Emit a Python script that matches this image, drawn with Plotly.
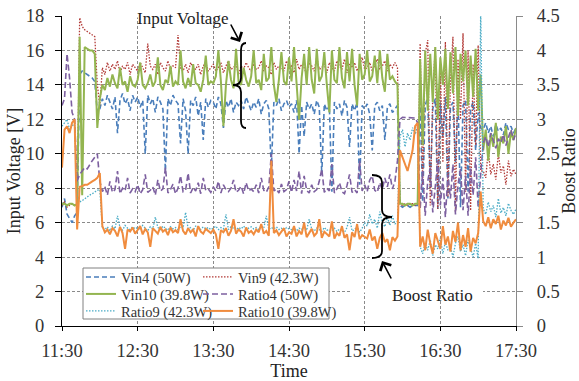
import plotly.graph_objects as go
from datetime import datetime, timedelta

# ---------------- data (2-minute samples from 11:30 to 17:30) ----------------
minutes = list(range(0, 362, 2))

vin4 = [6.9, 7.4, 6.5, 6.2, 6.0, 6.4, 6.6, 14.6, 14.8, 14.7, 14.6, 14.5, 14.4, 14.2, 12.4, 12.6,
        13.2, 12.8, 13.4, 13.0, 12.6, 13.3, 11.2, 13.1, 13.5, 12.9, 13.2, 12.5, 13.4, 13.0,
        13.3, 12.7, 13.1, 10.0, 13.4, 12.9, 13.2, 12.4, 13.3, 13.0, 12.6, 9.0, 13.2, 12.8, 13.4, 13.1,
        12.9, 10.6, 13.2, 12.5, 10.0, 13.1, 12.8, 13.3, 12.2, 13.0, 10.8, 13.2, 12.7, 13.1,
        13.0, 12.6, 13.3, 12.9, 11.5, 13.1, 12.7, 13.2, 12.4, 13.0, 12.8, 13.1, 12.6, 13.3, 12.9, 12.5,
        13.0, 12.7, 13.2, 12.3, 12.9, 13.1, 12.6, 9.1, 13.0, 12.8, 13.2, 12.5, 12.9, 13.1, 12.7,
        12.9, 12.4, 13.1, 10.0, 12.8, 11.0, 13.0, 12.6, 12.9, 12.3, 13.1, 12.7, 8.8, 12.9, 12.5,
        12.8, 7.8, 13.0, 12.6, 12.9, 12.2, 13.1, 12.7, 10.4, 12.9, 12.5, 13.0, 8.2, 12.8, 12.6,
        12.9, 12.3, 10.2, 12.8, 13.0, 12.5, 12.8, 10.8, 12.7, 12.9, 12.4, 12.6, 12.8,
        7.0, 6.9, 7.0, 7.0, 6.9, 7.0, 7.0, 7.0,
        13.0, 7.2, 12.8, 13.3, 8.0, 12.6, 13.2, 6.8, 12.9, 11.0, 13.3, 7.4, 12.7, 13.0, 9.5,
        13.2, 6.9, 12.8, 13.1, 7.8, 12.6, 13.0, 10.2, 12.4, 11.5,
        11.4, 11.8, 11.2, 11.6, 11.0, 11.7, 11.3, 11.5, 11.1, 11.8, 11.4, 11.6, 11.2, 11.5]

vin9 = [7.0, 7.2, 6.9, 7.0, 7.1, 7.0, 7.0, 17.9, 17.4, 17.2, 17.1, 17.0, 16.9, 16.8, 14.0, 12.8,
        15.0, 14.6, 15.3, 14.8, 15.2, 14.9, 15.4, 14.7, 15.1, 14.9, 15.3, 14.6, 15.2, 15.0,
        14.8, 15.3, 15.0, 14.7, 16.4, 15.1, 14.9, 15.2, 14.6, 15.3, 15.0, 14.8, 15.4, 14.9, 15.1, 15.0,
        16.9, 15.0, 14.8, 15.2, 14.7, 15.3, 15.0, 14.9, 15.2, 14.6, 15.1, 15.3, 14.8, 15.0,
        15.2, 14.8, 15.0, 15.3, 14.7, 15.1, 15.4, 14.9, 15.0, 15.2, 14.6, 15.1, 14.9, 15.3, 15.0, 14.8,
        15.2, 14.9, 15.0, 15.4, 14.8, 15.1, 15.0, 14.6, 15.3, 14.9, 15.1, 15.0, 14.8, 15.4, 15.0,
        15.1, 14.7, 15.5, 14.9, 15.2, 15.0, 14.6, 15.3, 15.1, 14.8, 15.6, 14.9, 15.0, 15.2, 14.7,
        15.3, 15.0, 14.8, 15.4, 15.1, 14.9, 15.5, 14.7, 15.2, 15.0, 15.3, 14.8, 15.1, 15.6, 14.9,
        15.0, 15.3, 14.8, 15.2, 15.5, 14.9, 15.1, 15.4, 14.8, 15.2, 15.0, 15.3, 15.0,
        7.1, 7.0, 7.1, 7.0, 7.1, 7.1, 7.0, 7.1,
        16.4, 8.2, 15.8, 16.6, 7.0, 13.5, 16.2, 6.8, 15.0, 9.5, 16.5, 7.5, 14.2, 16.8, 6.6,
        15.5, 12.0, 17.0, 7.8, 16.0, 6.7, 15.2, 10.5, 16.3, 9.0,
        9.0, 8.6, 10.2, 8.8, 9.4, 8.5, 10.0, 8.9, 9.3, 8.2, 9.6, 8.7, 9.1, 8.8]

vin10 = [7.1, 7.1, 7.0, 7.1, 7.1, 7.0, 7.1, 16.8, 7.6, 16.2, 16.1, 16.0, 16.0, 15.8, 11.5, 13.2,
         14.0, 13.7, 14.4, 13.9, 14.6, 14.1, 13.8, 15.0, 14.0, 14.2, 13.6, 14.5, 14.0, 13.9,
         14.3, 15.3, 14.0, 13.8, 14.1, 14.6, 13.9, 14.2, 15.6, 14.0, 13.7, 14.3, 14.1, 15.1, 13.9, 14.2,
         14.0, 16.0, 14.2, 13.8, 14.4, 13.9, 15.2, 14.1, 14.0, 13.6, 14.3, 15.7, 14.0, 14.2,
         14.1, 14.5, 16.0, 14.2, 11.6, 14.0, 15.4, 14.3, 13.8, 16.1, 14.2, 14.0, 15.0, 14.3, 13.9, 14.5,
         16.0, 14.1, 14.3, 13.7, 15.8, 14.2, 14.4, 16.2, 14.0, 13.0, 14.3, 15.9, 14.2, 14.0, 15.6,
         14.2, 16.2, 14.1, 12.0, 14.4, 15.8, 14.0, 16.2, 14.3, 13.5, 16.1, 14.2, 14.5, 15.9, 14.0,
         12.4, 16.0, 14.3, 14.1, 16.2, 14.4, 13.8, 15.9, 14.2, 16.1, 14.0, 12.8, 15.8, 14.3, 14.6,
         16.0, 14.2, 14.5, 15.7, 14.1, 16.0, 14.4, 13.6, 15.8, 14.3, 14.5, 14.2, 14.0,
         7.1, 7.1, 7.0, 7.1, 7.1, 7.0, 7.1, 7.1,
         15.5, 10.5, 16.0, 12.5, 15.8, 13.0, 16.2, 12.0, 15.6, 14.0, 16.1, 12.6, 15.9, 13.5, 16.2,
         12.2, 15.8, 14.2, 16.0, 12.8, 15.7, 13.3, 16.1, 12.5, 14.6,
         10.2, 11.4, 9.6, 11.2, 10.4, 11.8, 9.8, 11.0, 10.6, 11.6, 10.0, 11.3, 10.8, 11.5]

ratio4 = [3.2, 3.3, 3.95, 3.6, 3.1, 3.0, 2.1, 2.2, 2.25, 2.3, 2.28, 2.35, 2.4, 2.45, 2.5, 2.1,
          1.95, 2.02, 1.90, 2.10, 1.94, 1.98, 2.25, 1.92, 2.00, 1.96, 2.15, 1.93, 1.99, 1.95,
          2.05, 1.92, 1.98, 2.20, 1.94, 1.97, 2.02, 1.90, 2.12, 1.96, 1.99, 2.30, 1.93, 1.98, 2.06, 1.92,
          2.00, 2.18, 1.95, 1.97, 2.22, 1.93, 2.01, 1.96, 2.08, 1.92, 2.15, 1.97, 1.99, 1.94,
          2.02, 1.96, 2.10, 1.93, 2.05, 1.98, 1.95, 2.00, 2.12, 1.94, 1.97, 2.03, 1.92, 2.08, 1.96, 1.99,
          1.95, 2.05, 1.93, 2.15, 1.97, 1.94, 2.02, 2.50, 1.96, 1.99, 1.93, 2.06, 1.95, 1.98, 2.10,
          1.94, 2.12, 1.96, 2.25, 1.92, 2.18, 1.97, 1.93, 2.05, 1.95, 1.98, 2.10, 2.28, 1.94, 2.00,
          1.96, 2.35, 1.93, 1.99, 2.08, 1.95, 1.92, 2.04, 2.20, 1.94, 1.98, 1.93, 2.40, 1.96, 2.05,
          1.95, 2.12, 2.18, 1.97, 1.94, 2.08, 1.98, 2.15, 2.02, 2.20, 1.99, 2.10, 2.40,
          3.0, 3.03, 3.03, 3.02, 3.03, 3.03, 3.02, 2.95,
          1.70, 2.25, 1.60, 2.10, 2.30, 1.65, 2.00, 2.40, 1.75, 2.15, 1.58, 2.20, 1.85, 2.35, 1.62,
          2.05, 2.28, 1.68, 2.18, 1.60, 2.30, 1.90, 2.45, 1.72, 2.20,
          2.65, 2.75, 2.60, 2.80, 2.68, 2.58, 2.72, 2.66, 2.78, 2.62, 2.74, 2.85, 2.70, 2.80]

ratio9 = [2.9, 2.95, 3.0, 2.85, 2.9, 2.95, 1.85, 1.80, 1.82, 1.85, 1.87, 1.90, 1.92, 1.95, 1.97, 1.98,
          1.42, 1.40, 1.44, 1.38, 1.45, 1.41, 1.60, 1.43, 1.39, 1.46, 1.42, 1.40, 1.44, 1.41,
          1.43, 1.40, 1.46, 1.42, 1.38, 1.44, 1.41, 1.58, 1.43, 1.40, 1.45, 1.42, 1.39, 1.44, 1.41, 1.43,
          1.40, 1.44, 1.42, 1.65, 1.41, 1.43, 1.39, 1.45, 1.42, 1.40, 1.44, 1.41, 1.43, 1.40,
          1.42, 1.45, 1.40, 1.43, 1.41, 1.62, 1.40, 1.44, 1.42, 1.39, 1.43, 1.41, 1.45, 1.40, 1.42, 1.44,
          1.41, 1.43, 1.40, 1.45, 1.42, 1.60, 1.40, 1.43, 1.41, 1.44, 1.40, 1.42, 1.39, 1.43, 1.41,
          1.40, 1.43, 1.38, 1.42, 1.40, 1.44, 1.39, 1.55, 1.41, 1.38, 1.42, 1.40, 1.37, 1.43, 1.39,
          1.40, 1.38, 1.42, 1.37, 1.41, 1.39, 1.36, 1.43, 1.58, 1.38, 1.40, 1.45, 1.36, 1.42, 1.50,
          1.45, 1.62, 1.48, 1.55, 1.42, 1.66, 1.50, 1.44, 1.58, 1.46, 1.60, 1.48, 1.52,
          2.75, 2.85, 2.60, 2.80, 2.70, 2.88, 2.78, 2.90,
          1.15, 1.05, 1.20, 1.10, 1.25, 1.02, 1.18, 1.12, 1.28, 1.05, 1.22, 1.10, 1.15, 1.00, 1.20,
          1.30, 1.08, 1.18, 1.02, 1.25, 1.12, 1.00, 1.20, 0.98, 4.6,
          1.70, 1.62, 1.80, 1.66, 1.75, 1.58, 1.85, 1.64, 1.72, 1.60, 1.78, 1.68, 1.62, 1.70]

ratio10 = [2.3, 2.85, 2.9, 2.8, 2.95, 3.0, 1.4, 2.02, 2.03, 2.05, 2.05, 2.08, 2.1, 2.12, 2.15, 2.22,
           1.45, 1.36, 1.40, 1.33, 1.42, 1.38, 1.30, 1.44, 1.35, 1.12, 1.40, 1.37, 1.43, 1.34,
           1.39, 1.45, 1.33, 1.41, 1.36, 1.15, 1.42, 1.38, 1.34, 1.44, 1.37, 1.40, 1.32, 1.43, 1.36, 1.39,
           1.35, 1.55, 1.38, 1.33, 1.42, 1.36, 1.40, 1.30, 1.45, 1.37, 1.34, 1.41, 1.38, 1.35,
           1.40, 1.33, 1.12, 1.39, 1.36, 1.42, 1.31, 1.38, 1.55, 1.34, 1.40, 1.37, 1.30, 1.43, 1.35, 1.38,
           1.33, 1.40, 1.36, 1.48, 1.34, 1.38, 1.31, 2.40, 1.35, 1.39, 1.32, 1.37, 1.42, 1.30, 1.36,
           1.34, 1.45, 1.30, 1.38, 1.33, 1.50, 1.29, 1.36, 1.41, 1.31, 1.35, 1.55, 1.28, 1.37, 1.33,
           1.30, 1.52, 1.27, 1.35, 1.31, 1.45, 1.28, 1.33, 1.10, 1.36, 1.29, 1.48, 1.26, 1.32, 1.30,
           1.27, 1.40, 1.24, 1.30, 1.12, 1.28, 1.35, 1.22, 1.26, 1.10, 1.29, 1.24, 1.30,
           2.55, 2.45, 2.35, 2.25, 2.40, 2.55, 2.90, 2.95,
           1.15, 1.30, 1.10, 1.40, 1.20, 1.05, 1.35, 1.25, 1.12, 1.45, 1.18, 1.30, 1.08, 1.38, 1.22,
           1.50, 1.10, 1.32, 1.15, 1.42, 1.08, 1.28, 1.20, 1.35, 1.95,
           1.52, 1.45, 1.58, 1.42, 1.55, 1.48, 1.60, 1.40, 1.53, 1.46, 1.57, 1.44, 1.50, 1.55]

for s in (vin4, vin9, vin10, ratio4, ratio9, ratio10):
    assert len(s) == len(minutes), len(s)

base = datetime(2014, 5, 1, 11, 30)
time = [base + timedelta(minutes=m) for m in minutes]

names = ["Vin4 (50W)", "Vin9 (42.3W)", "Vin10 (39.8W)",
         "Ratio4 (50W)", "Ratio9 (42.3W)", "Ratio10 (39.8W)"]

# ---------------- figure ----------------
W, H = 579, 381
L, R, T, B = 62, 516, 16, 326
FONT = "Liberation Serif"


def px(x):
    return (x - L) / (R - L)


def py(y):
    return (B - y) / (B - T)


# legend slots: (legend id, left x px, row centre y px)
LEFT_X, RIGHT_X = 81, 198
ROWS = [277, 294, 311]
slots = {
    "legend": (LEFT_X, ROWS[0]), "legend2": (RIGHT_X, ROWS[0]),
    "legend3": (LEFT_X, ROWS[1]), "legend4": (RIGHT_X, ROWS[1]),
    "legend5": (LEFT_X, ROWS[2]), "legend6": (RIGHT_X, ROWS[2]),
}

fig = go.Figure()
fig.add_trace(go.Scatter(x=time, y=vin4, name=names[0], mode="lines", legend="legend",
                         line=dict(color="#4A7EBB", width=1.6, dash="5px,3px")))
fig.add_trace(go.Scatter(x=time, y=vin9, name=names[1], mode="lines", legend="legend2",
                         line=dict(color="#B23A37", width=1.3, dash="1.5px,1.5px")))
fig.add_trace(go.Scatter(x=time, y=vin10, name=names[2], mode="lines", legend="legend3",
                         line=dict(color="#93B550", width=2)))
fig.add_trace(go.Scatter(x=time, y=ratio4, name=names[3], mode="lines", legend="legend4", yaxis="y2",
                         line=dict(color="#7D60A0", width=1.6, dash="6px,3px")))
fig.add_trace(go.Scatter(x=time, y=ratio9, name=names[4], mode="lines", legend="legend5", yaxis="y2",
                         line=dict(color="#4BACC6", width=1.3, dash="1.5px,1.5px")))
fig.add_trace(go.Scatter(x=time, y=ratio10, name=names[5], mode="lines", legend="legend6", yaxis="y2",
                         line=dict(color="#F08C3E", width=2)))

tickfont = dict(family=FONT, size=18.5, color="#333333")
titlefont = dict(family=FONT, size=18, color="#222222")
grid = dict(showgrid=True, gridcolor="#8A8A8A", gridwidth=1, griddash="3px,2px")

legend_layout = {}
for lid, (lx, ly) in slots.items():
    legend_layout[lid] = dict(x=px(lx), y=py(ly), xanchor="left", yanchor="middle",
                              bgcolor="rgba(0,0,0,0)", borderwidth=0,
                              font=dict(family=FONT, size=14.5, color="#333333"))

fig.update_layout(
    template="none",
    width=W, height=H,
    margin=dict(l=L, r=W - R, t=T, b=H - B, autoexpand=False),
    paper_bgcolor="white", plot_bgcolor="white",
    font=dict(family=FONT, color="#333333"),
    showlegend=True,
    xaxis=dict(type="date", range=[base, base + timedelta(minutes=360)],
               tick0=base, dtick=3600000, tickformat="%H:%M", automargin=False,
               showline=True, linecolor="black", linewidth=1,
               ticks="outside", ticklen=4, tickcolor="black", ticklabelstandoff=4,
               tickfont=tickfont, title=dict(text="Time", font=titlefont, standoff=3),
               zeroline=False, **grid),
    yaxis=dict(range=[0, 18], dtick=2, showline=True, linecolor="black", linewidth=1,
               automargin=False,
               ticks="outside", ticklen=6, tickcolor="black", ticklabelstandoff=7,
               tickfont=tickfont, title=dict(text="Input Voltage [V]", font=titlefont, standoff=0),
               zeroline=False, **grid),
    yaxis2=dict(range=[0, 4.5], dtick=0.5, overlaying="y", side="right", automargin=False,
                showline=True, linecolor="#8A8A8A", linewidth=1, showgrid=False,
                ticks="outside", ticklen=6, tickcolor="#8A8A8A", ticklabelstandoff=10,
                tickfont=tickfont, title=dict(text="Boost Ratio", font=titlefont, standoff=10),
                zeroline=False),
    **legend_layout,
)


def path(points):
    cmd = ""
    for c, pts in points:
        cmd += c + " " + " ".join(f"{px(a):.5f},{py(b):.5f}" for a, b in pts) + " "
    return cmd.strip()


brace1 = path([("M", [(246, 43)]), ("Q", [(241, 43), (241, 50)]), ("L", [(241, 78)]),
               ("Q", [(241, 85), (233, 85)]), ("Q", [(241, 85), (241, 92)]), ("L", [(241, 121)]),
               ("Q", [(241, 128), (246, 128)])])
brace2 = path([("M", [(372, 175)]), ("Q", [(382, 175), (382, 182)]), ("L", [(382, 210)]),
               ("Q", [(382, 217), (392, 217)]), ("Q", [(382, 217), (382, 224)]), ("L", [(382, 251)]),
               ("Q", [(382, 258), (372, 258)])])

fig.update_layout(shapes=[
    dict(type="rect", xref="paper", yref="paper", x0=px(83), x1=px(329), y0=py(319), y1=py(268),
         fillcolor="white", line=dict(color="#808080", width=1), layer="above"),
    dict(type="line", xref="paper", yref="paper", x0=px(123), x1=px(242), y0=py(16), y1=py(16),
         line=dict(color="white", width=3), layer="above"),
    dict(type="line", xref="paper", yref="paper", x0=px(350), x1=px(483), y0=py(291), y1=py(291),
         line=dict(color="white", width=3), layer="above"),
    dict(type="path", xref="paper", yref="paper", path=brace1,
         line=dict(color="black", width=1.8), layer="above"),
    dict(type="path", xref="paper", yref="paper", path=brace2,
         line=dict(color="black", width=1.8), layer="above"),
])

fig.update_layout(annotations=[
    dict(text="Input Voltage", xref="paper", yref="paper", x=px(182), y=py(18),
         xanchor="center", yanchor="middle",
         showarrow=False, font=dict(family=FONT, size=17, color="#222222")),
    dict(text="Boost Ratio", xref="paper", yref="paper", x=px(432), y=py(295),
         xanchor="center", yanchor="middle",
         showarrow=False, font=dict(family=FONT, size=17, color="#222222")),
    dict(text="", xref="paper", yref="paper", x=px(240), y=py(42), ax=-10, ay=-19,
         showarrow=True, arrowhead=4, arrowsize=1.5, arrowwidth=1.6, arrowcolor="black"),
    dict(text="", xref="paper", yref="paper", x=px(382), y=py(261), ax=10, ay=19,
         showarrow=True, arrowhead=4, arrowsize=1.5, arrowwidth=1.6, arrowcolor="black"),
])

fig.write_html("out.html")
